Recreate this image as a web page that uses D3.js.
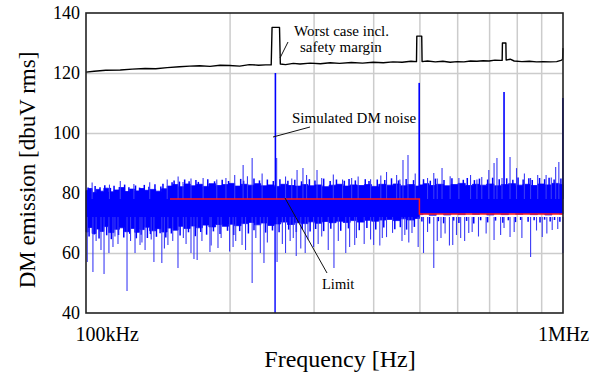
<html lang="en">

<head>
  <meta charset="UTF-8">
  <title>DM emission</title>
  <script src="https://d3js.org/d3.v7.min.js"></script>
</head>

<style>
  body {
    margin: 0;
    background: #fff;
  }

  text {
    font-family: "Liberation Serif", "Times New Roman", serif;
    fill: #000;
  }

  .gridlines line {
    stroke: #cccccc;
    stroke-width: 1.5;
  }

  .gridlines .domain {
    stroke: none;
  }
</style>

<body>
  <svg class="emisvg" width="591" height="378"></svg>
  <script>
    // axis ticks
    const xTicks = [100, 1000];
    const xTickLabels = ['100kHz', '1MHz'];
    const xGrid = [200, 300, 400, 500, 600, 700, 800, 900];
    const yTicks = [40, 60, 80, 100, 120, 140];

    // dense part of the simulated noise (kHz, upper edge dB, lower edge dB)
    const bandFreq = [100, 102, 104, 106, 108, 110, 113, 116, 119, 122, 125, 128, 131, 134, 138, 142, 146, 150, 154, 158,
      163, 168, 173, 178, 184, 190, 196, 202, 208, 215, 222, 229, 236, 244, 252, 260, 269, 278, 287, 297,
      307, 318, 329, 340, 352, 364, 377, 390, 404, 418, 433, 448, 464, 480, 497, 503, 515, 533, 552, 572,
      592, 613, 635, 657, 680, 704, 729, 755, 782, 810, 839, 869, 900, 932, 965, 1000];
    const bandTop = [80.8, 81.5, 80.2, 81.2, 80.6, 81.6, 80.4, 81.0, 81.8, 80.5,
      81.3, 80.7, 81.5, 80.9, 81.2, 80.6, 81.4, 82.3, 82.8, 82.1,
      83.0, 82.4, 82.9, 82.2, 83.1, 82.5, 82.8, 83.2, 82.3, 82.9,
      82.6, 83.1, 82.4, 82.7, 82.2, 82.9, 82.5, 82.3, 82.8, 82.4,
      82.7, 82.1, 82.6, 82.9, 82.3, 82.7, 82.5, 82.8, 82.2, 82.9,
      82.6, 83.0, 82.4, 82.8, 82.3, 82.7, 83.1, 82.5, 82.9, 82.4,
      82.8, 83.2, 82.5, 82.9, 82.6, 83.0, 82.4, 82.8, 83.1, 82.6,
      82.9, 82.5, 83.0, 82.7, 83.2, 82.8];
    const bandBottom = [67.0, 68.5, 66.5, 68.0, 67.2, 68.8, 66.8, 67.9, 68.4, 67.1,
      68.2, 66.9, 67.8, 68.6, 67.4, 68.1, 67.0, 68.3, 67.6, 68.9,
      68.2, 69.0, 68.4, 69.3, 68.7, 69.5, 68.9, 69.6, 69.1, 69.8,
      70.2, 69.4, 70.0, 69.2, 69.7, 70.3, 69.5, 70.1, 69.8, 70.4,
      69.9, 70.5, 70.1, 70.6, 70.2, 70.8, 70.3, 70.9, 70.6, 71.0,
      71.2, 70.8, 71.4, 71.0, 71.5, 72.8, 73.1, 72.6, 73.2, 72.7,
      73.1, 72.8, 73.3, 72.9, 73.2, 72.7, 73.1, 72.8, 73.3, 72.9,
      73.2, 72.8, 73.1, 72.7, 73.2, 73.0];

    // short ragged strokes on the band edges (kHz, dB)
    const fringeUp = [[101, 81.8], [104.5, 82.3], [107, 81.9], [109.5, 82.6], [112.5, 81.7], [114.5, 82.4], [117.5, 82.0],
      [120.5, 82.8], [123, 81.9], [127, 82.5], [129.5, 81.8], [132.5, 82.7], [135.5, 82.1], [139.5, 82.9], [143.5, 82.2],
      [145, 83.1], [151.5, 83.6], [153, 84.2], [157, 83.8], [161, 84.5], [164.5, 83.9], [170, 84.3], [172, 83.7],
      [180, 84.6], [186, 83.9], [193, 84.4], [199, 84.0], [211, 84.7], [214, 84.1], [225, 84.8], [231, 84.2], [240, 84.5],
      [247, 84.0], [255, 84.6], [265, 84.1], [274, 84.4], [283, 83.9], [294, 84.6], [302, 84.2], [315, 84.8], [325, 84.0],
      [335, 84.5], [348, 84.1], [356, 84.7], [367, 84.2], [385, 84.6], [392, 84.0], [408, 84.5], [423, 84.3], [437, 84.9],
      [452, 84.2], [469, 84.7], [486, 84.3], [510, 84.6], [527, 84.1], [540, 84.8], [563, 84.3], [585, 84.9], [618, 84.4],
      [630, 85.0], [652, 84.3], [668, 84.8], [695, 84.5], [712, 85.1], [735, 84.6], [762, 84.9], [785, 84.4], [805, 85.2],
      [825, 84.5], [848, 84.9], [862, 84.3], [893, 85.0], [915, 84.6], [935, 85.1], [958, 84.5], [990, 84.8]];
    const fringeDown = [[101.5, 65.5], [104, 66.2], [106.5, 64.8], [110.5, 65.9], [113, 64.6], [117, 66.0], [120, 65.2],
      [123.5, 66.4], [127.5, 64.9], [130.5, 66.1], [134.5, 65.0], [136.5, 66.3], [140.5, 65.4], [143, 66.6], [147, 65.2],
      [151, 66.5], [157.5, 65.8], [164, 66.9], [169.5, 65.6], [174, 67.0], [179, 66.1], [185, 67.2], [191, 66.3],
      [198, 67.4], [204, 66.0], [210, 67.3], [219, 66.5], [225, 67.6], [238, 66.8], [246, 67.5], [254, 66.9], [266, 67.8],
      [276, 67.0], [284, 67.9], [295, 67.2], [303, 68.0], [315, 67.3], [326, 68.1], [342, 67.4], [355, 68.2], [374, 67.6],
      [388, 68.3], [405, 67.8], [421, 68.5], [444, 67.9], [456, 68.6], [470, 67.8], [488, 68.7], [506, 70.5], [525, 69.8],
      [548, 70.6], [562, 69.9], [590, 70.8], [605, 70.0], [628, 70.7], [650, 69.8], [672, 70.9], [695, 70.2], [722, 70.8],
      [748, 70.1], [768, 70.9], [795, 70.3], [815, 71.0], [845, 70.4], [870, 70.9], [895, 70.2], [915, 71.1], [940, 70.5],
      [960, 71.0], [985, 70.4]];

    // single noise peaks above and below the band (kHz, dB)
    const upSpikes = [[103, 83.5], [112, 82.8], [118, 84], [126, 83], [136, 83.6], [148, 84.5], [156, 85.5], [159.7, 83.7],
      [166, 84.8], [176, 85], [188, 84.5], [196.5, 85], [205, 86], [213.5, 89.3], [218, 85.6], [223, 91.7], [234, 86.5],
      [249.5, 120], [251, 91.7], [262, 85.5], [270, 84.8], [277, 87.7], [285, 88.3], [290, 86], [305, 87.7], [312, 85],
      [330, 86.2], [345, 84.5], [360.5, 85], [372, 85.5], [395, 84.6], [415, 85.8], [426.6, 87], [447.9, 86], [455, 84.5],
      [461.9, 91], [473.2, 92.7], [490, 86.5], [499.5, 116.7], [520, 85], [535.9, 86.7], [545, 84.8], [557.7, 88.3],
      [580, 85.6], [605, 85], [640, 86], [660, 84.5], [675.6, 85.3], [699, 87.7], [716.9, 90], [727, 91.7], [745, 85],
      [752.3, 113.7], [774.4, 92], [799, 88.3], [830, 86.5], [855, 85], [885, 86], [921.7, 86], [945, 85.2], [965.2, 88.7],
      [980.1, 90.3], [999.5, 111.7]];
    const downSpikes = [[100.6, 57], [103.4, 53.7], [105, 64], [107.5, 61], [109.1, 53], [111.7, 60], [113.9, 62], [115, 65.5],
      [116.7, 63], [121.9, 47.3], [124, 64], [126.7, 60], [129.8, 62.7], [131, 63.5], [133, 61], [137, 64.5], [138.8, 57],
      [144.2, 56.7], [146, 61.5], [148.5, 62.7], [152, 64], [155.9, 55], [160, 65], [162.1, 63], [166, 60], [168.4, 58],
      [171, 57.7], [175, 64], [181.9, 60.3], [183, 62.5], [189.1, 61.7], [192, 65], [200, 60.5], [203.4, 62], [206, 64],
      [212.4, 62.7], [216, 61], [223, 50], [227, 65], [232, 60], [236.1, 56.7], [240, 63.5], [249.1, 40], [251.5, 57],
      [258, 63], [262, 60], [267.9, 64], [272, 65], [275.9, 59], [282, 61.5], [288.1, 60], [292, 64.5], [300, 62],
      [306.7, 63], [312, 65.5], [322, 61], [331, 55], [338, 64], [350.4, 60], [357, 62], [365.9, 62.7], [369, 65],
      [383, 63], [395, 64.5], [400.9, 62.7], [413, 62.5], [418, 65], [426.6, 65.3], [439.2, 66.7], [459.7, 64],
      [466, 66], [475, 63.5], [482.4, 66.7], [497, 62], [510, 60], [520, 67], [535.9, 55], [545, 64], [554.9, 65],
      [566, 66.5], [578, 62.5], [587.3, 62.7], [598, 66], [610.2, 65], [622, 64], [634.5, 66.7], [645, 67], [665, 65.5],
      [690, 66.5], [716.9, 64.3], [740, 66], [752.3, 68.3], [774.4, 65.3], [790, 67], [820, 65], [855.2, 58.7],
      [880, 67.5], [904.6, 65.3], [925, 66.5], [949.2, 67.7], [975, 68], [999.5, 60]];

    // limit line (kHz, dB)
    const limitFreq = [150, 500, 500, 1000];
    const limitVal = [78, 78, 73, 73];

    // worst case incl. safety margin (kHz, dB)
    const worstFreq = [100, 104, 110, 118, 125, 133, 140, 148, 157, 165, 173, 182, 191, 200, 210, 220, 230, 238, 244.5, 245.5,
      254.5, 255.5, 262, 272, 281, 295, 310, 325, 340, 360, 380, 400, 420, 440, 460, 480, 493, 493.8, 505.6, 506.5,
      520, 540, 560, 580, 600, 620, 640, 660, 680, 700, 720, 740, 745.5, 746.5, 759, 760, 775, 790, 820, 850,
      880, 910, 940, 970, 990, 998, 1000];
    const worstVal = [120.3, 120.6, 120.9, 121.0, 121.3, 121.5, 121.4, 121.8, 122.1, 122.3, 122.4, 122.2, 122.6, 122.5, 122.3, 122.8, 122.6, 122.7, 122.7, 135.2,
      135.2, 123.0, 122.8, 123.2, 123.0, 123.3, 123.1, 123.4, 123.2, 123.5, 123.3, 123.6, 123.4, 123.7, 123.6, 123.9, 123.8, 132.3, 132.3, 123.8,
      124.0, 123.7, 123.9, 123.6, 123.8, 123.7, 124.0, 123.9, 124.1, 124.0, 124.3, 124.2, 124.2, 130.0, 130.0, 124.3, 124.6, 124.0, 123.8, 123.9,
      123.7, 123.8, 123.7, 123.8, 124.2, 124.5, 128.3];

    const svg = d3.select('svg.emisvg');
    const margins = { top: 13, right: 28, bottom: 65, left: 86 };
    const width = +svg.attr('width');
    const height = +svg.attr('height');
    const chartWidth = width - margins.left - margins.right;
    const chartHeight = height - margins.top - margins.bottom;

    const xScale = d3.scaleLog().domain([100, 1000]).range([0, chartWidth]);
    const yScale = d3.scaleLinear().domain([40, 140]).range([chartHeight, 0]);

    const chartArea = svg.append('g')
      .attr('transform', `translate(${margins.left},${margins.top})`);

    //gridlines
    chartArea.append('g')
      .attr('class', 'x gridlines')
      .attr('transform', `translate(0,${chartHeight})`)
      .call(d3.axisBottom(xScale).tickValues(xGrid).tickSize(-chartHeight).tickFormat(''));
    chartArea.append('g')
      .attr('class', 'y gridlines')
      .call(d3.axisLeft(yScale).tickValues([60, 80, 100, 120]).tickSize(-chartWidth).tickFormat(''));

    // noise band
    const band = bandFreq.map((f, i) => ({ f: f, top: bandTop[i], bottom: bandBottom[i] }));
    chartArea.append('path')
      .datum(band)
      .attr('fill', '#0000ff')
      .attr('stroke', '#0000ff')
      .attr('stroke-width', 0.8)
      .attr('d', d3.area()
        .curve(d3.curveStep)
        .x(d => xScale(d.f))
        .y0(d => yScale(d.bottom))
        .y1(d => yScale(d.top)));

    // ragged edges of the band
    chartArea.selectAll('line.fringe')
      .data(fringeUp.map(d => [d[0], d[1], 80]).concat(fringeDown.map(d => [d[0], d[1], 72])))
      .enter().append('line')
      .attr('class', 'fringe')
      .attr('x1', d => xScale(d[0])).attr('x2', d => xScale(d[0]))
      .attr('y1', d => yScale(d[2])).attr('y2', d => yScale(d[1]))
      .attr('stroke', '#0000ff')
      .attr('stroke-width', 1.5);

    // noise peaks
    chartArea.selectAll('line.up')
      .data(upSpikes)
      .enter().append('line')
      .attr('class', 'up')
      .attr('x1', d => xScale(d[0])).attr('x2', d => xScale(d[0]))
      .attr('y1', yScale(78)).attr('y2', d => yScale(d[1]))
      .attr('stroke', d => d[1] > 100 ? '#0000ff' : '#3a3af5')
      .attr('stroke-width', d => d[1] > 100 ? 1.6 : 1.1);
    chartArea.selectAll('line.down')
      .data(downSpikes)
      .enter().append('line')
      .attr('class', 'down')
      .attr('x1', d => xScale(d[0])).attr('x2', d => xScale(d[0]))
      .attr('y1', yScale(72)).attr('y2', d => yScale(d[1]))
      .attr('stroke', d => d[1] < 45 ? '#0000ff' : '#3a3af5')
      .attr('stroke-width', d => d[1] < 45 ? 1.4 : 1.1);

    // limit
    chartArea.append('path')
      .datum(limitFreq.map((f, i) => [f, limitVal[i]]))
      .attr('fill', 'none')
      .attr('stroke', '#ff1a1a')
      .attr('stroke-width', 1.5)
      .attr('d', d3.line().x(d => xScale(d[0])).y(d => yScale(d[1])));

    // worst case
    chartArea.append('path')
      .datum(worstFreq.map((f, i) => [f, worstVal[i]]))
      .attr('fill', 'none')
      .attr('stroke', '#000')
      .attr('stroke-width', 1.4)
      .attr('stroke-linejoin', 'round')
      .attr('d', d3.line().x(d => xScale(d[0])).y(d => yScale(d[1])));

    // frame
    chartArea.append('rect')
      .attr('width', chartWidth)
      .attr('height', chartHeight)
      .attr('fill', 'none')
      .attr('stroke', '#222')
      .attr('stroke-width', 1.6);

    // axes
    const yAxis = chartArea.append('g')
      .call(d3.axisLeft(yScale).tickValues(yTicks).tickSize(0).tickPadding(6));
    yAxis.select('.domain').remove();
    yAxis.selectAll('text')
      .style('font-family', '"Liberation Serif", serif')
      .style('font-size', '18px');

    const xAxis = chartArea.append('g')
      .attr('transform', `translate(0,${chartHeight})`)
      .call(d3.axisBottom(xScale).tickValues(xTicks).tickSize(0).tickPadding(14)
        .tickFormat((d, i) => xTickLabels[i]));
    xAxis.select('.domain').remove();
    xAxis.selectAll('text')
      .style('font-family', '"Liberation Serif", serif')
      .style('font-size', '20px')
      .attr('text-anchor', (d, i) => i == 0 ? 'start' : 'middle')
      .attr('dx', (d, i) => i == 0 ? -11 : 0);

    svg.append('text')
      .attr('x', 340)
      .attr('y', 367)
      .attr('text-anchor', 'middle')
      .style('font-size', '24px')
      .text('Frequency [Hz]');

    svg.append('text')
      .attr('transform', 'translate(35,170) rotate(-90)')
      .attr('text-anchor', 'middle')
      .style('font-size', '23px')
      .text('DM emission [dbuV rms]');

    // annotations
    const notes = svg.append('g').style('font-size', '15px');
    notes.append('text').attr('x', 294).attr('y', 36).text('Worst case incl.');
    notes.append('text').attr('x', 300).attr('y', 52).text('safety margin');
    notes.append('text').attr('x', 292).attr('y', 123).text('Simulated DM noise');
    notes.append('text').attr('x', 322).attr('y', 289).style('font-size', '14.5px').text('Limit');

    const leaders = [[288, 42, 280, 58], [310, 127, 273, 137], [285, 198, 327, 273]];
    svg.selectAll('line.leader')
      .data(leaders)
      .enter().append('line')
      .attr('class', 'leader')
      .attr('x1', d => d[0]).attr('y1', d => d[1])
      .attr('x2', d => d[2]).attr('y2', d => d[3])
      .attr('stroke', '#111')
      .attr('stroke-width', 1);
  </script>
</body>

</html>
